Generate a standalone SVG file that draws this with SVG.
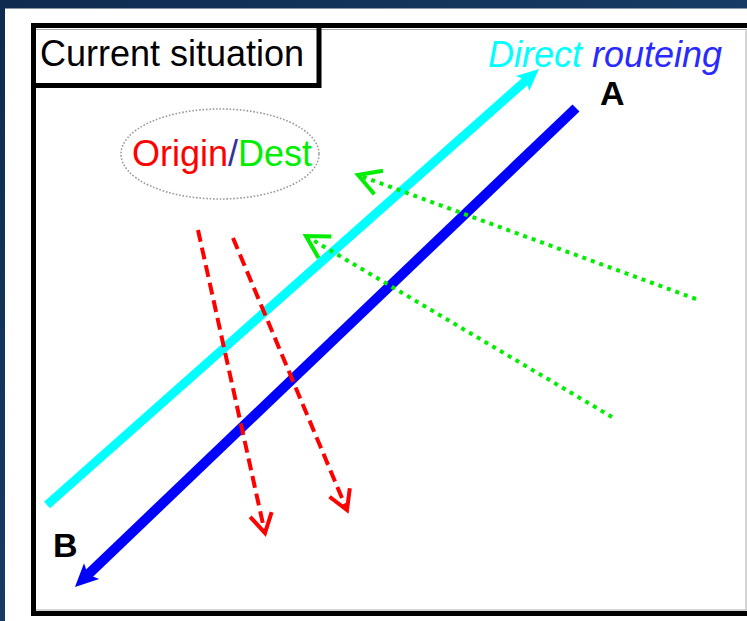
<svg xmlns="http://www.w3.org/2000/svg" width="747" height="621" viewBox="0 0 747 621">
  <defs>
    <linearGradient id="bg" x1="0" y1="0" x2="1" y2="1">
      <stop offset="0" stop-color="#0f2b4f"/>
      <stop offset="1" stop-color="#1d4a78"/>
    </linearGradient>
    <marker id="headCyan" markerUnits="userSpaceOnUse" markerWidth="40" markerHeight="40" viewBox="-20 -20 40 40" refX="0" refY="0" orient="auto" overflow="visible">
      <path d="M14,0 L-8,-10 L-3,0 L-8,10 Z" fill="#00ffff"/>
    </marker>
    <marker id="headBlue" markerUnits="userSpaceOnUse" markerWidth="40" markerHeight="40" viewBox="-20 -20 40 40" refX="0" refY="0" orient="auto" overflow="visible">
      <path d="M14,0 L-9,-11 L-4,0 L-9,11 Z" fill="#0000ff"/>
    </marker>
    <marker id="headRed" markerUnits="userSpaceOnUse" markerWidth="40" markerHeight="40" viewBox="-20 -20 40 40" refX="0" refY="0" orient="auto" overflow="visible">
      <path d="M-19,-11 L0,0 L-19,11" fill="none" stroke="#ff0000" stroke-width="4" stroke-linejoin="miter"/>
    </marker>
    <marker id="headGreen" markerUnits="userSpaceOnUse" markerWidth="40" markerHeight="40" viewBox="-20 -20 40 40" refX="0" refY="0" orient="auto" overflow="visible">
      <path d="M-22,-12.5 L0,0 L-22,12.5" fill="none" stroke="#00ee00" stroke-width="4" stroke-linejoin="miter"/>
    </marker>
  </defs>
  <style>
    .t { font-family: "Liberation Sans", Arial, sans-serif; }
    .frame { fill: none; stroke: #000; stroke-width: 5; }
    .red { fill: none; stroke: #ff0000; stroke-width: 4; stroke-dasharray: 12 6; }
    .green { fill: none; stroke: #00ee00; stroke-width: 4; stroke-dasharray: 4 5; }
  </style>

  <rect x="0" y="0" width="747" height="621" fill="url(#bg)"/>
  <rect x="5" y="8.5" width="742" height="612.5" fill="#ffffff"/>

  <g id="frame">
    <rect x="34" y="29.5" width="712" height="580.5" fill="none" stroke="#aaaaaa" stroke-width="1"/>
    <path class="frame" d="M747,25.5 H33.5 V613.5 H747" stroke-width="6"/>
  </g>

  <g id="title">
    <rect class="frame" x="33.5" y="25.5" width="285.5" height="60" stroke-width="6"/>
    <text class="t" x="40" y="66" font-size="36" fill="#000">Current situation</text>
  </g>

  <g id="direct-label">
    <text class="t" x="488" y="67" font-size="36" font-style="italic"><tspan fill="#00ffff">Direct</tspan><tspan fill="#2a2aff"> routeing</tspan></text>
  </g>

  <g id="origin-dest">
    <ellipse cx="220" cy="154" rx="99" ry="45" fill="none" stroke="#999999" stroke-width="1.6" stroke-dasharray="1.6 1.8"/>
    <text class="t" x="132" y="166" font-size="36"><tspan fill="#ff0000">Origin</tspan><tspan fill="#333399">/</tspan><tspan fill="#00ee00">Dest</tspan></text>
  </g>

  <g id="label-A">
    <text class="t" x="600" y="105" font-size="34" font-weight="bold" fill="#000">A</text>
  </g>
  <g id="label-B">
    <text class="t" x="53" y="557" font-size="34" font-weight="bold" fill="#000">B</text>
  </g>

  <g id="connectors">
    <line x1="47" y1="505" x2="528.5" y2="78.3" stroke="#00ffff" stroke-width="9" marker-end="url(#headCyan)"/>
    <line x1="576" y1="108" x2="85.1" y2="577.3" stroke="#0000ff" stroke-width="10" marker-end="url(#headBlue)"/>
    <line class="red" x1="198" y1="230" x2="265" y2="533" marker-end="url(#headRed)"/>
    <line class="red" x1="233" y1="238" x2="347" y2="510" marker-end="url(#headRed)"/>
    <line class="green" x1="696" y1="299" x2="358" y2="175" marker-end="url(#headGreen)"/>
    <line class="green" x1="612" y1="417" x2="306" y2="236" marker-end="url(#headGreen)"/>
  </g>
</svg>
